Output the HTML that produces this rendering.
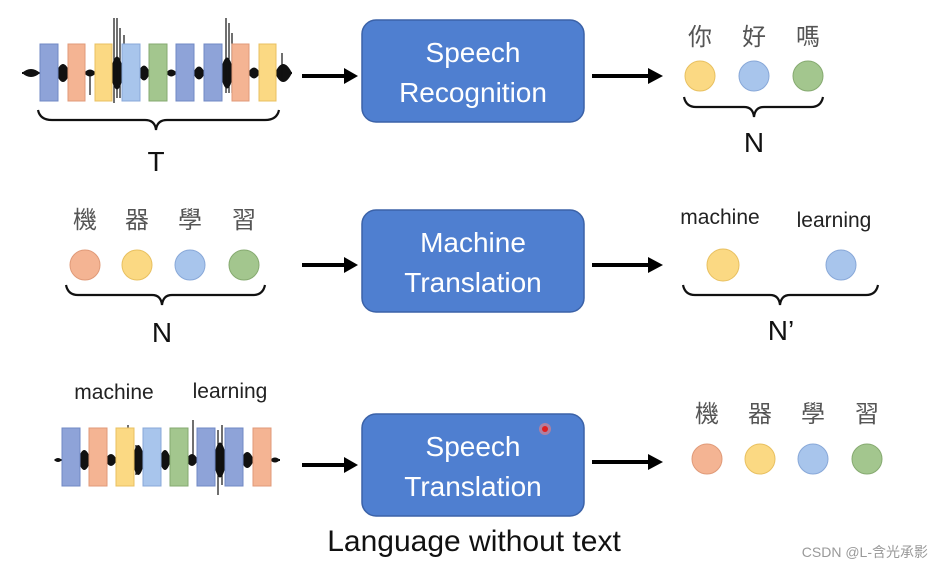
<!DOCTYPE html>
<html><head><meta charset="utf-8"><style>
html,body{margin:0;padding:0;background:#fff;width:932px;height:566px;overflow:hidden}
svg text{font-family:"Liberation Sans","Noto Sans CJK TC",sans-serif}
</style></head><body>
<svg width="932" height="566" viewBox="0 0 932 566" xmlns="http://www.w3.org/2000/svg">
<!-- waveform row1 -->
<g fill="#111">
<rect x="22" y="72" width="270" height="2"/>
<path d="M22,73 Q31,65 40,73 Q31,81 22,73z"/>
<path d="M56,73 Q63,55 70,73 Q63,91 56,73z"/>
<path d="M84,73 Q90,66 96,73 Q90,80 84,73z"/>
<path d="M110,73 Q117,40 124,73 Q117,106 110,73z"/>
<path d="M138,73 Q144,58 150,73 Q144,88 138,73z"/>
<path d="M166,73 Q171,66 177,73 Q171,80 166,73z"/>
<path d="M193,73 Q199,60 205,73 Q199,86 193,73z"/>
<path d="M220,73 Q227,42 234,73 Q227,104 220,73z"/>
<path d="M248,73 Q254,62 260,73 Q254,84 248,73z"/>
<path d="M275,73 Q283,55 292,73 Q283,91 275,73z"/>
</g>
<g stroke="#111" stroke-width="1.2">
<path d="M114 73 v-55 v85 M117 73 v-55 v80 M120 73 v-45 v70 M124 73 v-38 v50 M226 73 v-55 v75 M229 73 v-50 v70 M232 73 v-40 v60 M186 73 v-28 M90 73 v22 M282 73 v-20 v28" fill="none"/>
</g>
<g stroke-width="1">
<rect x="40" y="44" width="18" height="57" fill="#8ea3d8" stroke="#7088c4"/>
<rect x="68" y="44" width="17" height="57" fill="#f4b493" stroke="#e09a78"/>
<rect x="95" y="44" width="17" height="57" fill="#fbd983" stroke="#e8c060"/>
<rect x="122" y="44" width="18" height="57" fill="#a8c5ec" stroke="#88a8d8"/>
<rect x="149" y="44" width="18" height="57" fill="#a3c68e" stroke="#86aa70"/>
<rect x="176" y="44" width="18" height="57" fill="#8ea3d8" stroke="#7088c4"/>
<rect x="204" y="44" width="18" height="57" fill="#8ea3d8" stroke="#7088c4"/>
<rect x="232" y="44" width="17" height="57" fill="#f4b493" stroke="#e09a78"/>
<rect x="259" y="44" width="17" height="57" fill="#fbd983" stroke="#e8c060"/>
</g>
<g fill="none" stroke="#111" stroke-width="2.2">
<path d="M38 110 q2 10 14 10 H145 q10 0 11 10 q1 -10 11 -10 H265 q12 0 14 -10"/>
<path d="M684 97 q2 10 12 10 H744 q9 0 10 10 q1 -10 10 -10 H811 q10 0 12 -10"/>
<path d="M66 285 q2 10 12 10 H152 q9 0 10 10 q1 -10 10 -10 H253 q10 0 12 -10"/>
<path d="M683 285 q2 10 12 10 H770 q9 0 10 10 q1 -10 10 -10 H866 q10 0 12 -10"/>
</g>
<text x="156" y="171" font-size="28" text-anchor="middle" fill="#111">T</text>
<text x="754" y="152" font-size="28" text-anchor="middle" fill="#111">N</text>
<text x="162" y="342" font-size="28" text-anchor="middle" fill="#111">N</text>
<text x="781" y="340" font-size="28" text-anchor="middle" fill="#111">N’</text>
<!-- arrows -->
<g stroke="#000" stroke-width="4">
<line x1="302" y1="76" x2="346" y2="76"/><path d="M344 68 L358 76 L344 84z" fill="#000" stroke="none"/>
<line x1="592" y1="76" x2="650" y2="76"/><path d="M648 68 L663 76 L648 84z" fill="#000" stroke="none"/>
<line x1="302" y1="265" x2="346" y2="265"/><path d="M344 257 L358 265 L344 273z" fill="#000" stroke="none"/>
<line x1="592" y1="265" x2="650" y2="265"/><path d="M648 257 L663 265 L648 273z" fill="#000" stroke="none"/>
<line x1="302" y1="465" x2="346" y2="465"/><path d="M344 457 L358 465 L344 473z" fill="#000" stroke="none"/>
<line x1="592" y1="462" x2="650" y2="462"/><path d="M648 454 L663 462 L648 470z" fill="#000" stroke="none"/>
</g>
<!-- boxes -->
<g fill="#4f7fd0" stroke="#3b62a8" stroke-width="1.5">
<rect x="362" y="20" width="222" height="102" rx="14"/>
<rect x="362" y="210" width="222" height="102" rx="14"/>
<rect x="362" y="414" width="222" height="102" rx="14"/>
</g>
<g fill="#fff" font-size="28" text-anchor="middle">
<text x="473" y="62">Speech</text><text x="473" y="102">Recognition</text>
<text x="473" y="252">Machine</text><text x="473" y="292">Translation</text>
<text x="473" y="456">Speech</text><text x="473" y="496">Translation</text>
</g>
<circle cx="545" cy="429" r="6" fill="#f08080" opacity="0.6"/><circle cx="545" cy="429" r="3" fill="#e02020"/>
<!-- circles -->
<g stroke-width="1">
<circle cx="700" cy="76" r="15" fill="#fbd983" stroke="#e8c060"/>
<circle cx="754" cy="76" r="15" fill="#a8c5ec" stroke="#88a8d8"/>
<circle cx="808" cy="76" r="15" fill="#a3c68e" stroke="#86aa70"/>
<circle cx="85" cy="265" r="15" fill="#f4b493" stroke="#e09a78"/>
<circle cx="137" cy="265" r="15" fill="#fbd983" stroke="#e8c060"/>
<circle cx="190" cy="265" r="15" fill="#a8c5ec" stroke="#88a8d8"/>
<circle cx="244" cy="265" r="15" fill="#a3c68e" stroke="#86aa70"/>
<circle cx="723" cy="265" r="16" fill="#fbd983" stroke="#e8c060"/>
<circle cx="841" cy="265" r="15" fill="#a8c5ec" stroke="#88a8d8"/>
<circle cx="707" cy="459" r="15" fill="#f4b493" stroke="#e09a78"/>
<circle cx="760" cy="459" r="15" fill="#fbd983" stroke="#e8c060"/>
<circle cx="813" cy="459" r="15" fill="#a8c5ec" stroke="#88a8d8"/>
<circle cx="867" cy="459" r="15" fill="#a3c68e" stroke="#86aa70"/>
</g>
<g fill="#555" font-size="24" text-anchor="middle">
<text x="700" y="45">你</text><text x="754" y="45">好</text><text x="808" y="45">嗎</text>
<text x="85" y="228">機</text><text x="137" y="228">器</text><text x="190" y="228">學</text><text x="244" y="228">習</text>
<text x="707" y="422">機</text><text x="760" y="422">器</text><text x="813" y="422">學</text><text x="867" y="422">習</text>
</g>
<g fill="#222" font-size="21" text-anchor="middle">
<text x="720" y="224">machine</text><text x="834" y="227">learning</text>
<text x="114" y="399">machine</text><text x="230" y="398">learning</text>
</g>
<!-- waveform row3 -->
<g fill="#111">
<rect x="55" y="459" width="225" height="2"/>
<path d="M54,460 Q58,456 62,460 Q58,464 54,460z"/>
<path d="M78,460 Q84,440 91,460 Q84,480 78,460z"/>
<path d="M105,460 Q111,448 117,460 Q111,472 105,460z"/>
<path d="M132,460 Q138,430 145,460 Q138,490 132,460z"/>
<path d="M159,460 Q165,440 171,460 Q165,480 159,460z"/>
<path d="M186,460 Q192,448 198,460 Q192,472 186,460z"/>
<path d="M213,460 Q220,425 227,460 Q220,495 213,460z"/>
<path d="M241,460 Q247,444 254,460 Q247,476 241,460z"/>
<path d="M270,460 Q275,455 280,460 Q275,465 270,460z"/>
</g>
<g stroke="#111" stroke-width="1.2">
<path d="M128 460 v-35 v60 M131 460 v-30 v55 M136 460 v-15 v30 M218 460 v-30 v65 M222 460 v-35 v60 M226 460 v-25 v50 M193 460 v-40 v30" fill="none"/>
</g>
<g stroke-width="1">
<rect x="62" y="428" width="18" height="58" fill="#8ea3d8" stroke="#7088c4"/>
<rect x="89" y="428" width="18" height="58" fill="#f4b493" stroke="#e09a78"/>
<rect x="116" y="428" width="18" height="58" fill="#fbd983" stroke="#e8c060"/>
<rect x="143" y="428" width="18" height="58" fill="#a8c5ec" stroke="#88a8d8"/>
<rect x="170" y="428" width="18" height="58" fill="#a3c68e" stroke="#86aa70"/>
<rect x="197" y="428" width="18" height="58" fill="#8ea3d8" stroke="#7088c4"/>
<rect x="225" y="428" width="18" height="58" fill="#8ea3d8" stroke="#7088c4"/>
<rect x="253" y="428" width="18" height="58" fill="#f4b493" stroke="#e09a78"/>
</g>
<text x="474" y="551" font-size="30" text-anchor="middle" fill="#111">Language without text</text>
<text x="928" y="557" font-size="14" text-anchor="end" fill="#999">CSDN @L-含光承影</text>
</svg>
</body></html>
